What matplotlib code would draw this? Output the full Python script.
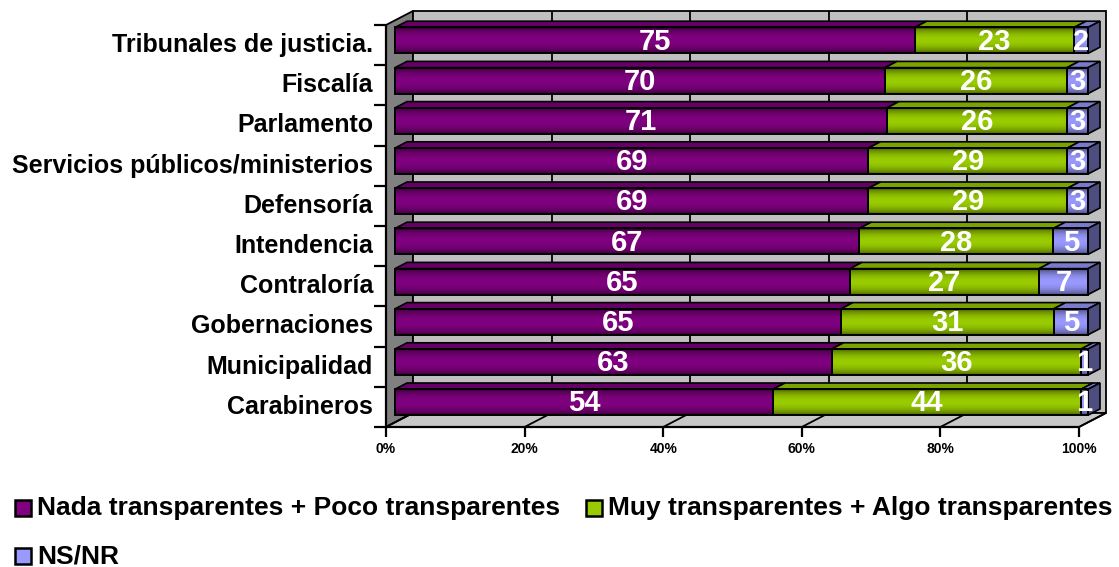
import matplotlib
matplotlib.use('Agg')
import matplotlib.pyplot as plt
import numpy as np
from matplotlib.patches import Polygon, Rectangle

plt.rcParams['font.family'] = ['Liberation Sans', 'DejaVu Sans']

categories = ['Tribunales de justicia.', 'Fiscalía', 'Parlamento',
              'Servicios públicos/ministerios', 'Defensoría', 'Intendencia',
              'Contraloría', 'Gobernaciones', 'Municipalidad', 'Carabineros']
nada_poco = [75, 70, 71, 69, 69, 67, 65, 65, 63, 54]
muy_algo = [23, 26, 26, 29, 29, 28, 27, 31, 36, 44]
ns_nr = [2, 3, 3, 3, 3, 5, 7, 5, 1, 1]
series_names = ['Nada transparentes + Poco transparentes',
                'Muy transparentes + Algo transparentes', 'NS/NR']
x_ticks = [0, 20, 40, 60, 80, 100]
x_tick_labels = ['0%', '20%', '40%', '60%', '80%', '100%']

front_colors = ['#800080', '#99CC00', '#9999FF']
top_colors = ['#660066', '#7AA300', '#7A7ACC']
side_colors = ['#4D004D', '#5C7A00', '#4D4D80']

W, H = 1119, 567
fig = plt.figure(figsize=(W / 100, H / 100), dpi=100)
L, R, T, B = 386, 1079, 25, 427
ax = fig.add_axes([L / W, 1 - B / H, (R - L) / W, (B - T) / H])
n = len(categories)
PX_X = (R - L) / 100.0
PX_Y = (B - T) / n
SLOPE = 0.52


def shift(d):
    return d / PX_X, -SLOPE * d / PX_Y


def poly(pts, **kw):
    p = Polygon(pts, closed=True, **kw)
    p.set_clip_on(False)
    ax.add_patch(p)
    return p


def line(xs, ys, **kw):
    ax.plot(xs, ys, clip_on=False, solid_capstyle='butt', **kw)


# walls
sx, sy = shift(27)
top, bot = -0.5, n - 0.5
poly([(0, top), (sx, top + sy), (sx, bot + sy), (0, bot)],
     facecolor='#808080', edgecolor='black', lw=1.3, zorder=0)
poly([(sx, top + sy), (100 + sx, top + sy), (100 + sx, bot + sy), (sx, bot + sy)],
     facecolor='#C0C0C0', edgecolor='black', lw=1.3, zorder=0)
poly([(0, bot), (100, bot), (100 + sx, bot + sy), (sx, bot + sy)],
     facecolor='#C8C8C8', edgecolor='black', lw=1.3, zorder=0.5)
for xt in x_ticks[1:-1]:
    line([xt + sx, xt + sx], [top + sy, bot + sy], color='black', lw=1.3, zorder=1)
for xt in x_ticks:
    line([xt, xt + sx], [bot, bot + sy], color='black', lw=1.3, zorder=1)

# bars
fx, fy = shift(9)
bx, by = shift(21)
h = 0.323
ng = 64
tt = np.linspace(0, 1, ng)
shade = 0.45 + 0.55 * np.sin(np.pi * tt) ** 0.7

for i in range(n):
    vals = [nada_poco[i], muy_algo[i], ns_nr[i]]
    tot = float(sum(vals))
    left = 0.0
    for k, v in enumerate(vals):
        w = v / tot * 100
        x0, x1 = left, left + w
        yc = i + fy
        base = np.array(matplotlib.colors.to_rgb(front_colors[k]))
        grad = np.clip(base[None, :] * shade[:, None], 0, 1)
        img = grad[:, None, :]
        im = ax.imshow(img, extent=[x0 + fx, x1 + fx, yc + h, yc - h], aspect='auto',
                       interpolation='bilinear', zorder=3)
        im.set_clip_on(False)
        r = Rectangle((x0 + fx, yc - h), w, 2 * h, facecolor='none',
                      edgecolor='black', lw=1.4, zorder=4)
        r.set_clip_on(False)
        ax.add_patch(r)
        poly([(x0 + fx, yc - h), (x1 + fx, yc - h),
              (x1 + bx, i + by - h), (x0 + bx, i + by - h)],
             facecolor=top_colors[k], edgecolor='black', lw=1.2, zorder=3)
        if k == len(vals) - 1:
            poly([(x1 + fx, yc - h), (x1 + bx, i + by - h),
                  (x1 + bx, i + by + h), (x1 + fx, yc + h)],
                 facecolor=side_colors[k], edgecolor='black', lw=1.2, zorder=3)
        ax.text((x0 + x1) / 2 + fx, yc + 0.03, str(v), color='white', fontsize=21,
                fontweight='bold', ha='center', va='center', zorder=6, clip_on=False)
        left = x1

# front axes
line([0, 0], [top, bot], color='black', lw=1.6, zorder=5)
line([0, 100], [bot, bot], color='black', lw=1.6, zorder=5)
for j in range(n + 1):
    line([0, -12 / PX_X], [j - 0.5, j - 0.5], color='black', lw=1.6, zorder=5)
for xt, lab in zip(x_ticks, x_tick_labels):
    line([xt, xt], [bot, bot + 10 / PX_Y], color='black', lw=1.6, zorder=5)
    ax.text(xt, bot + 22 / PX_Y, lab, ha='center', va='center', fontsize=10,
            fontweight='bold', clip_on=False)
for i, c in enumerate(categories):
    ax.text(-13 / PX_X, i, c, ha='right', va='center', fontsize=18,
            fontweight='bold', clip_on=False)

ax.set_xlim(0, 100)
ax.set_ylim(bot, top)
ax.axis('off')

# legend
leg_items = [(15, 508, series_names[0], front_colors[0]),
             (586, 508, series_names[1], front_colors[1]),
             (15, 556, series_names[2], front_colors[2])]
for px, py, lab, col in leg_items:
    fig.patches.append(Rectangle((px / W, 1 - (py + 8) / H), 16 / W, 16 / H,
                                 transform=fig.transFigure, facecolor=col,
                                 edgecolor='black', lw=1.8))
    fig.text((px + 22) / W, 1 - py / H, lab, ha='left', va='center', fontsize=19,
             fontweight='bold')

fig.savefig('out.png', dpi=100)
